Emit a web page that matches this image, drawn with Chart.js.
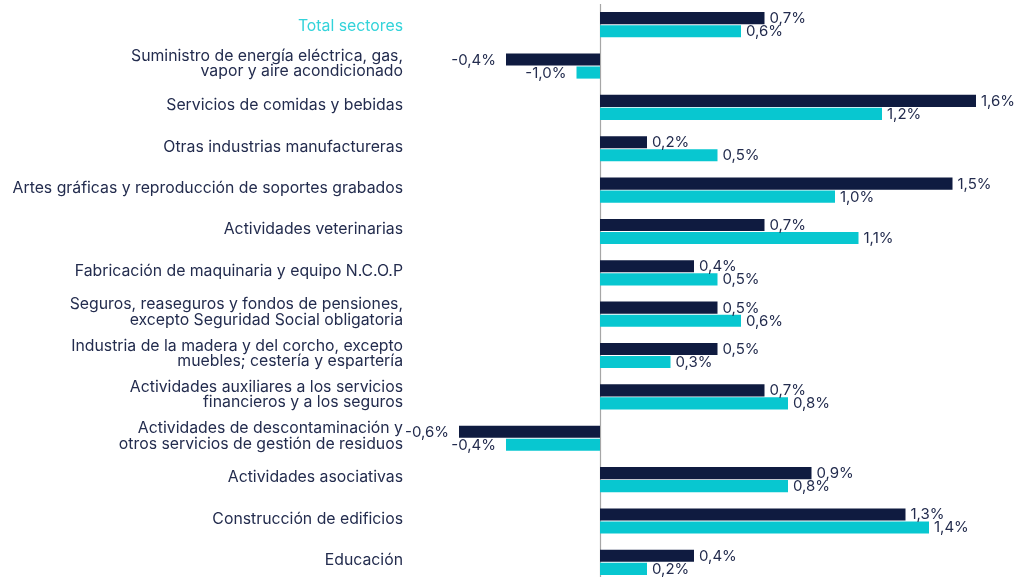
<!DOCTYPE html>
<html>
<head>
<meta charset="utf-8">
<script src="https://cdn.jsdelivr.net/npm/chart.js@4"></script>
<style>
  html, body { margin: 0; padding: 0; background: #fff; overflow: hidden; }
  #wrap { width: 1029px; height: 583px; position: relative; }
</style>
</head>
<body>
<div id="wrap"><canvas id="c"></canvas></div>
<script>
const categories = [
  ["Total sectores"],
  ["Suministro de energía eléctrica, gas,", "vapor y aire acondicionado"],
  ["Servicios de comidas y bebidas"],
  ["Otras industrias manufactureras"],
  ["Artes gráficas y reproducción de soportes grabados"],
  ["Actividades veterinarias"],
  ["Fabricación de maquinaria y equipo N.C.O.P"],
  ["Seguros, reaseguros y fondos de pensiones,", "excepto Seguridad Social obligatoria"],
  ["Industria de la madera y del corcho, excepto", "muebles; cestería y espartería"],
  ["Actividades auxiliares a los servicios", "financieros y a los seguros"],
  ["Actividades de descontaminación y", "otros servicios de gestión de residuos"],
  ["Actividades asociativas"],
  ["Construcción de edificios"],
  ["Educación"]
];
// bar lengths as drawn in the picture
const seriesA = [0.7, -0.4, 1.6, 0.2, 1.5, 0.7, 0.4, 0.5, 0.5, 0.7, -0.6, 0.9, 1.3, 0.4];
const seriesB = [0.6, -0.1, 1.2, 0.5, 1.0, 1.1, 0.5, 0.6, 0.3, 0.8, -0.4, 0.8, 1.4, 0.2];
// value labels as printed in the picture
const labelsA = ["0,7%", "-0,4%", "1,6%", "0,2%", "1,5%", "0,7%", "0,4%", "0,5%", "0,5%", "0,7%", "-0,6%", "0,9%", "1,3%", "0,4%"];
const labelsB = ["0,6%", "-1,0%", "1,2%", "0,5%", "1,0%", "1,1%", "0,5%", "0,6%", "0,3%", "0,8%", "-0,4%", "0,8%", "1,4%", "0,2%"];

const FONT = "Inter, 'Noto Sans', sans-serif";
const TEXT = "#232c4e";
const NAVY = "#0f1b40";
const CYAN = "#08c7d0";

const zeroLine = {
  id: 'zeroLine',
  beforeDatasetsDraw(chart) {
    const x = chart.scales.x.getPixelForValue(0);
    const ctx = chart.ctx;
    ctx.save();
    ctx.strokeStyle = '#a6a6a6';
    ctx.lineWidth = 1.2;
    ctx.beginPath();
    ctx.moveTo(Math.round(x) + 0.5, chart.chartArea.top);
    ctx.lineTo(Math.round(x) + 0.5, chart.chartArea.bottom);
    ctx.stroke();
    ctx.restore();
  }
};

// the highlighted first category sits on its row centre, the others slightly above
const firstLabelShift = {
  id: 'firstLabelShift',
  beforeDraw(chart) {
    const items = chart.scales.y.getLabelItems(chart.chartArea);
    if (items.length && !items._shifted) {
      items[0].options.translation[1] += 4;
      items._shifted = true;
    }
  }
};

const valueLabels = {
  id: 'valueLabels',
  afterDatasetsDraw(chart) {
    const ctx = chart.ctx;
    ctx.save();
    ctx.font = "15px " + FONT;
    ctx.fillStyle = TEXT;
    ctx.textBaseline = 'middle';
    const texts = [labelsA, labelsB];
    chart.data.datasets.forEach((ds, di) => {
      const meta = chart.getDatasetMeta(di);
      meta.data.forEach((bar, i) => {
        const v = ds.data[i];
        const t = texts[di][i];
        if (v >= 0) {
          ctx.textAlign = 'left';
          ctx.fillText(t, bar.x + 5, bar.y + 0.5);
        } else {
          ctx.textAlign = 'right';
          ctx.fillText(t, bar.x - 10, bar.y + 0.5);
        }
      });
    });
    ctx.restore();
  }
};

new Chart(document.getElementById('c'), {
  type: 'bar',
  data: {
    labels: categories,
    datasets: [
      { data: seriesA, backgroundColor: NAVY, borderWidth: 0, categoryPercentage: 0.63, barPercentage: 0.93 },
      { data: seriesB, backgroundColor: CYAN, borderWidth: 0, categoryPercentage: 0.63, barPercentage: 0.93 }
    ]
  },
  options: {
    indexAxis: 'y',
    responsive: true,
    maintainAspectRatio: false,
    animation: false,
    layout: { padding: { left: 0, right: 6, top: 4, bottom: 0 } },
    plugins: { legend: { display: false }, tooltip: { enabled: false } },
    scales: {
      x: {
        display: false,
        min: -0.8,
        max: 1.8
      },
      y: {
        grid: { display: false, drawTicks: false },
        border: { display: false },
        afterFit(scale) { scale.width = 412; scale.paddingTop = 0; scale.paddingBottom = 0; },
        ticks: {
          padding: 9,
          labelOffset: -2,
          font: { family: FONT, size: 15.8, lineHeight: 0.96 },
          color: (c) => c.index === 0 ? '#33d3da' : TEXT
        }
      }
    }
  },
  plugins: [zeroLine, firstLabelShift, valueLabels]
});
</script>
</body>
</html>
